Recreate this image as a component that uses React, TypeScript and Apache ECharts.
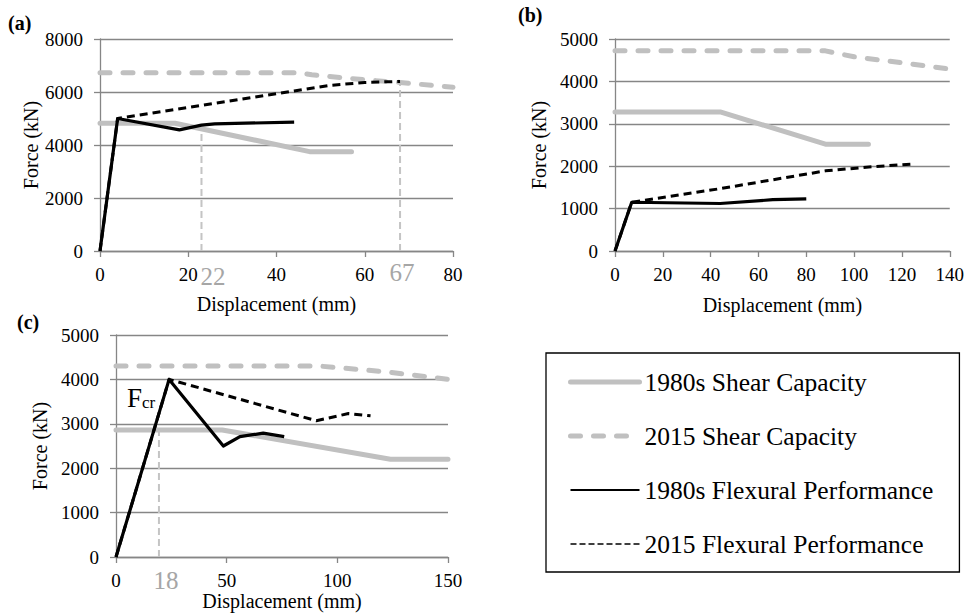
import React, { useEffect, useRef } from "react";
import * as echarts from "echarts";

const FONT = "Liberation Serif";

// Legend / series names
const seriesNames = [
  "1980s Shear Capacity",
  "2015 Shear Capacity",
  "1980s Flexural Performance",
  "2015 Flexural Performance",
];

// Panel (a): [displacement mm, force kN]
const aShear1980 = [[0, 4820], [17, 4820], [47.5, 3750], [57, 3750]];
const aShear2015 = [[0, 6730], [45, 6730], [48, 6650], [60, 6460], [68, 6360], [80, 6180]];
const aFlex1980 = [[0, 0], [4, 5000], [18, 4570], [23, 4750], [26, 4800], [44, 4860]];
const aFlex2015 = [[0, 0], [4, 5000], [44, 6040], [52, 6250], [60, 6360], [68, 6400]];
const aRef22 = [[23, 0], [23, 4610]];
const aRef67 = [[68, 0], [68, 6400]];

// Panel (b)
const bShear1980 = [[0, 3280], [44, 3280], [88, 2520], [106, 2520]];
const bShear2015 = [[0, 4720], [88, 4720], [100, 4580], [120, 4440], [140, 4290]];
const bFlex1980 = [[0, 0], [7, 1150], [44, 1120], [66, 1210], [80, 1230]];
const bFlex2015 = [[0, 0], [7, 1150], [44, 1470], [88, 1890], [108, 1990], [124, 2050]];

// Panel (c)
const cShear1980 = [[0, 2860], [48, 2860], [124, 2200], [150, 2200]];
const cShear2015 = [[0, 4300], [92, 4300], [122, 4170], [150, 4000]];
const cFlex1980 = [[0, 0], [24, 4000], [48.5, 2500], [56, 2710], [66.5, 2790], [76, 2710]];
const cFlex2015 = [[0, 0], [24, 4000], [90.5, 3070], [105, 3230], [115, 3180]];
const cRef18 = [[19.4, 0], [19.4, 2860]];

// Axis ranges
const xMax = [80, 140, 150];
const xInterval = [20, 20, 50];
const yMax = [8000, 5000, 5000];
const yInterval = [2000, 1000, 1000];

// Annotation texts
const annotationTexts = ["22", "67", "18"];
const panelLabels = ["(a)", "(b)", "(c)"];

const GRID_COLOR = "#868686";
const GRAY = "#c0c0c0";

const styles = [
  { color: GRAY, width: 5, type: "solid", cap: "round" },
  { color: GRAY, width: 5, type: [10, 13], cap: "round" },
  { color: "#000", width: 3.2, type: "solid", cap: "butt" },
  { color: "#000", width: 3, type: [8, 5], cap: "butt" },
];

function lineSeries(idx: number, name: string, styleIdx: number, data: number[][]) {
  const s = styles[styleIdx];
  return {
    type: "line",
    name,
    xAxisIndex: idx,
    yAxisIndex: idx,
    data,
    symbol: "none",
    silent: true,
    lineStyle: { color: s.color, width: s.width, type: s.type, cap: s.cap, join: "round" },
    itemStyle: { color: s.color },
    z: styleIdx + 2,
  };
}

function refSeries(idx: number, data: number[][]) {
  return {
    type: "line",
    name: "ref",
    xAxisIndex: idx,
    yAxisIndex: idx,
    data,
    symbol: "none",
    silent: true,
    lineStyle: { color: "#c4c4c4", width: 2, type: [7, 4] },
    z: 1,
  };
}

const xNameGap = [43, 44, 32];
const yNameGap = [56, 66, 66];

export default function App() {
  const ref = useRef<HTMLDivElement>(null);
  useEffect(() => {
    if (!ref.current) return;
    const chart = echarts.init(ref.current, undefined, { renderer: "svg" });
    const grids = [
      { left: 100, top: 39, width: 353, height: 212 },
      { left: 615, top: 39, width: 335, height: 212 },
      { left: 116, top: 335, width: 332, height: 222 },
    ];
    const fmt = (v: number) => String(v);
    const xAxes = grids.map((_, i) => ({
      type: "value",
      gridIndex: i,
      min: 0,
      max: xMax[i],
      interval: xInterval[i],
      name: "Displacement (mm)",
      nameLocation: "middle",
      nameGap: xNameGap[i],
      nameTextStyle: { fontSize: 20, color: "#000", fontFamily: FONT },
      axisLine: { show: true, onZero: false, lineStyle: { color: GRID_COLOR, width: 1.3 } },
      axisTick: { show: true, length: 6, lineStyle: { color: GRID_COLOR, width: 1.3 } },
      axisLabel: { fontSize: 19, color: "#000", fontFamily: FONT, margin: 14, formatter: fmt },
      splitLine: { show: false },
    }));
    const yAxes = grids.map((_, i) => ({
      type: "value",
      gridIndex: i,
      min: 0,
      max: yMax[i],
      interval: yInterval[i],
      name: "Force (kN)",
      nameLocation: "middle",
      nameGap: yNameGap[i],
      nameTextStyle: { fontSize: 20, color: "#000", fontFamily: FONT },
      axisLine: { show: true, onZero: false, lineStyle: { color: GRID_COLOR, width: 1.3 } },
      axisTick: { show: true, length: 6, lineStyle: { color: GRID_COLOR, width: 1.3 } },
      axisLabel: { fontSize: 19, color: "#000", fontFamily: FONT, margin: 17, formatter: fmt },
      splitLine: { show: true, lineStyle: { color: GRID_COLOR, width: 1.3 } },
    }));

    const panelData = [
      [aShear1980, aShear2015, aFlex1980, aFlex2015],
      [bShear1980, bShear2015, bFlex1980, bFlex2015],
      [cShear1980, cShear2015, cFlex1980, cFlex2015],
    ];
    const series: any[] = [refSeries(0, aRef22), refSeries(0, aRef67), refSeries(2, cRef18)];
    panelData.forEach((sets, i) => {
      sets.forEach((d, k) => series.push(lineSeries(i, seriesNames[k], k, d)));
    });

    const legendLine = [
      { color: GRAY, width: 5, type: "solid", cap: "round" },
      { color: GRAY, width: 5, type: [10, 13], cap: "round" },
      { color: "#000", width: 2, type: "solid", cap: "butt" },
      { color: "#000", width: 1.5, type: [6, 3], cap: "butt" },
    ];

    const annPos = [
      [213, 276],
      [402, 272],
      [166, 580],
    ];
    const labelPos = [
      [8, 13],
      [518, 5],
      [17, 312],
    ];

    chart.setOption({
      animation: false,
      backgroundColor: "#fff",
      textStyle: { fontFamily: FONT },
      grid: grids,
      xAxis: xAxes,
      yAxis: yAxes,
      series,
      legend: {
        orient: "vertical",
        left: 546,
        top: 353,
        padding: [16, 26, 15, 22],
        itemGap: 28,
        itemWidth: 69,
        itemHeight: 26,
        borderColor: "#000",
        borderWidth: 1.3,
        selectedMode: false,
        textStyle: { fontSize: 25.5, fontFamily: FONT, color: "#000", lineHeight: 26 },
        data: seriesNames.map((n, k) => ({
          name: n,
          lineStyle: legendLine[k],
          itemStyle: { opacity: 0 },
          textStyle: { fontSize: 25.5, fontFamily: FONT, color: "#000" },
        })),
      },
      graphic: [
        ...panelLabels.map((t, i) => ({
          type: "text",
          x: labelPos[i][0],
          y: labelPos[i][1],
          style: { text: t, fontSize: 20, fontWeight: "bold", fontFamily: FONT, fill: "#000" },
        })),
        ...annotationTexts.map((t, i) => ({
          type: "text",
          x: annPos[i][0],
          y: annPos[i][1],
          style: {
            text: t,
            fontSize: 25,
            fontFamily: FONT,
            fill: "#a6a6a6",
            align: "center",
            verticalAlign: "middle",
          },
        })),
        {
          type: "text",
          x: 127,
          y: 411,
          style: {
            text: "{a|F}{b|cr}",
            verticalAlign: "bottom",
            rich: {
              a: { fontSize: 27, fontFamily: FONT, fill: "#000", verticalAlign: "bottom" },
              b: { fontSize: 17, fontFamily: FONT, fill: "#000", verticalAlign: "bottom" },
            },
          },
        },
      ],
    });
    return () => chart.dispose();
  }, []);
  return (
    <div
      ref={ref}
      style={{ position: "fixed", left: 0, top: 0, width: 967, height: 613, background: "#fff" }}
    />
  );
}
